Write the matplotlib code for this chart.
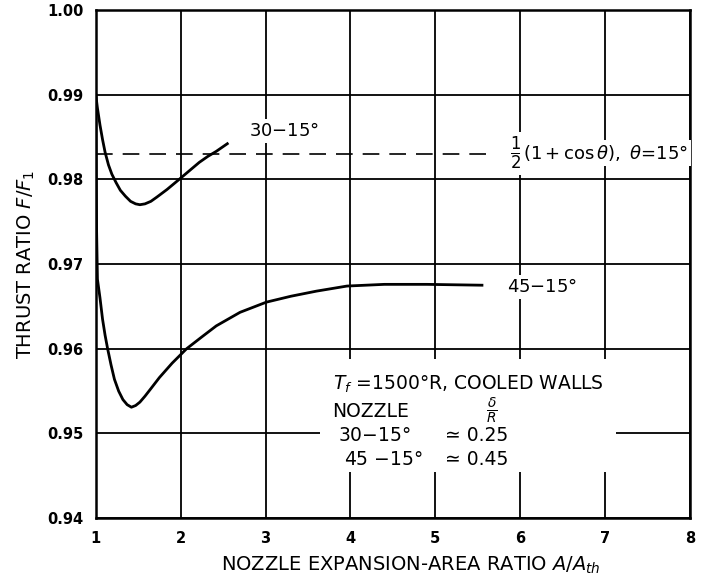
"""Thrust ratio vs nozzle expansion-area ratio for two conical nozzles."""
import matplotlib
matplotlib.use("Agg")
import matplotlib.pyplot as plt
from matplotlib.patches import Rectangle

plt.rcParams["font.family"] = ["DejaVu Sans"]
plt.rcParams["mathtext.fontset"] = "dejavusans"

# curve 30-15 deg
X_30 = [1.0, 1.02, 1.05, 1.08, 1.11, 1.15, 1.19, 1.24, 1.29, 1.35, 1.41, 1.47, 1.52,
        1.58, 1.65, 1.72, 1.84, 1.96, 2.09, 2.22, 2.32, 2.42, 2.55]
Y_30 = [0.9900, 0.9884, 0.9864, 0.9847, 0.9832, 0.9817, 0.9806, 0.9796, 0.9787, 0.9780,
        0.9774, 0.9771, 0.9770, 0.9771, 0.9774, 0.9779, 0.9788, 0.9798, 0.9809, 0.9820,
        0.9827, 0.9833, 0.9842]

# curve 45-15 deg
X_45 = [1.0, 1.005, 1.01, 1.02, 1.05, 1.08, 1.11, 1.14, 1.18, 1.22, 1.27, 1.32, 1.37,
        1.42, 1.47, 1.52, 1.58, 1.65, 1.75, 1.9, 2.07, 2.25, 2.42, 2.7, 3.01, 3.3, 3.6,
        3.96, 4.4, 4.9, 5.55]
Y_45 = [0.9900, 0.9810, 0.9740, 0.9682, 0.9660, 0.9635, 0.9616, 0.9600, 0.9581, 0.9564,
        0.9550, 0.9540, 0.9534, 0.9531, 0.9533, 0.9537, 0.9544, 0.9553, 0.9566, 0.9583,
        0.9600, 0.9614, 0.9627, 0.9643, 0.9655, 0.9662, 0.9668, 0.9674, 0.9676, 0.9676,
        0.9675]

COS_LINE = 0.98296      # 1/2 (1 + cos 15 deg)
COS_X = [1.0, 5.64]

X_TICKS = [1, 2, 3, 4, 5, 6, 7, 8]
Y_TICKS = [0.94, 0.95, 0.96, 0.97, 0.98, 0.99, 1.00]
Y_TICKLABELS = ["0.94", "0.95", "0.96", "0.97", "0.98", "0.99", "1.00"]

fig = plt.figure(figsize=(7.04, 5.79), dpi=100)
ax = fig.add_axes([0.136, 0.105, 0.844, 0.878])
ax.set_axisbelow(True)

ax.plot(X_30, Y_30, color="black", lw=2.0, zorder=3, solid_joinstyle="round")
ax.plot(X_45, Y_45, color="black", lw=2.0, zorder=3, solid_joinstyle="round")
ax.plot(COS_X, [COS_LINE, COS_LINE], color="black", lw=1.2, ls=(0, (10, 6)), zorder=3)

ax.set_xlim(1, 8); ax.set_ylim(0.94, 1.00)
ax.set_xticks(X_TICKS); ax.set_yticks(Y_TICKS)
ax.set_yticklabels(Y_TICKLABELS)
ax.tick_params(length=0, labelsize=10.5, pad=9)
for lab in ax.get_xticklabels() + ax.get_yticklabels():
    lab.set_fontweight("bold")
ax.grid(True, color="black", lw=1.3)
for sp in ax.spines.values():
    sp.set_linewidth(1.8)

ax.set_xlabel(r"NOZZLE EXPANSION-AREA RATIO $A/A_{th}$", fontsize=14, labelpad=7)
ax.xaxis.set_label_coords(0.53, -0.072)
ax.set_ylabel(r"THRUST RATIO $F/F_1$", fontsize=14, labelpad=7)

# white area behind the note, the grid is broken there
ax.add_patch(Rectangle((3.64, 0.9454), 3.49, 0.0134, facecolor="white",
                       edgecolor="none", zorder=1))

box = dict(facecolor="white", edgecolor="none", pad=2)
ax.text(2.81, 0.9857, "30$-$15°", fontsize=13, ha="left", va="center", bbox=box, zorder=4)
ax.text(5.84, 0.9673, "45$-$15°", fontsize=13, ha="left", va="center", bbox=box, zorder=4)
ax.text(5.88, 0.9831, r"$\frac{1}{2}$", fontsize=17, ha="left", va="center",
        bbox=box, zorder=4)
ax.text(6.03, 0.9831, r"$(1+\cos\theta),\ \theta$=15°", fontsize=13,
        ha="left", va="center", bbox=box, zorder=4)

NOTE_FS = 13.5
ax.text(3.79, 0.9558, r"$T_f$ =1500°R, COOLED WALLS", fontsize=NOTE_FS, ha="left", va="center", zorder=4)
ax.text(3.79, 0.9526, "NOZZLE", fontsize=NOTE_FS, ha="left", va="center", zorder=4)
ax.text(5.67, 0.9527, r"$\frac{\delta}{R}$", fontsize=14, ha="center", va="center", zorder=4)
ax.text(3.85, 0.9498, "30$-$15°", fontsize=NOTE_FS, ha="left", va="center", zorder=4)
ax.text(5.11, 0.9498, "≃ 0.25", fontsize=NOTE_FS, ha="left", va="center", zorder=4)
ax.text(3.93, 0.9469, "45 $-$15°", fontsize=NOTE_FS, ha="left", va="center", zorder=4)
ax.text(5.11, 0.9469, "≃ 0.45", fontsize=NOTE_FS, ha="left", va="center", zorder=4)

fig.savefig("out.png", dpi=100)
